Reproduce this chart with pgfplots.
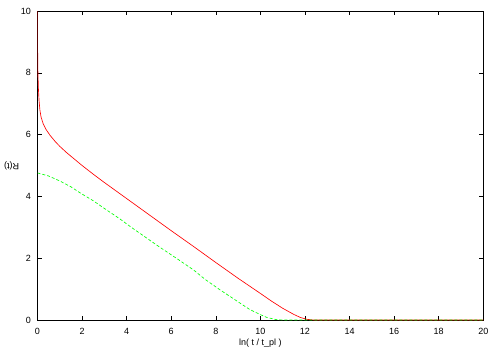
\documentclass[border=0pt]{standalone}
\usepackage{fontspec}
\setmainfont{Liberation Sans}
\usepackage{pgfplots}
\pgfplotsset{compat=1.18}
\begin{document}
\begin{tikzpicture}
\begin{axis}[
  scale only axis,
  width=445.8pt, height=309pt,
  xmin=0, xmax=20, ymin=0, ymax=10,
  xtick={0,2,...,20}, ytick={0,2,...,10},
  tick align=inside,
  major tick length=4pt,
  tick style={black, line width=0.6pt},
  axis line style={black, line width=0.8pt},
  /pgf/number format/assume math mode=true,
  tick label style={font=\fontsize{9}{11}\selectfont},
  xticklabel style={yshift=-4.5pt},
  yticklabel style={xshift=-3pt},
  label style={font=\fontsize{9}{11}\selectfont},
  xlabel={ln( t / t\_pl )},
  ylabel={R(t)},
  xlabel style={at={(axis description cs:0.5,-0.074)}, anchor=center},
  ylabel style={at={(axis description cs:-0.058,0.5)}, anchor=center, rotate=90},
  clip=true,
]
\addplot[red, line width=0.65pt] coordinates {
(0,10.5) (0.002,9.3) (0.005,8.9) (0.01,8.45) (0.02,8.0) (0.04,7.5) (0.07,7.1)
(0.11,6.78) (0.16,6.57) (0.25,6.36) (0.38,6.17) (0.56,5.98) (0.8,5.77)
(1.0,5.62) (1.3,5.42) (1.6,5.24) (2.0,5.0) (2.5,4.72) (3.0,4.45) (4.0,3.93)
(5.0,3.41) (6.0,2.89) (7.0,2.38) (8.0,1.86) (9.0,1.35) (10.0,0.86)
(10.5,0.61) (11.0,0.38) (11.5,0.18) (11.8,0.08) (12.1,0.02)
(12.4,0) (20,0)
};
\addplot[green, line width=0.65pt, dash pattern=on 3pt off 2pt] coordinates {
(0,4.76) (0.5,4.66) (1.0,4.50) (1.5,4.31) (1.9,4.12) (2.5,3.86) (3.0,3.61)
(3.7,3.27) (4.15,3.03) (5.0,2.60) (5.5,2.35) (6.31,1.96) (7.0,1.62) (7.51,1.32)
(8.18,0.98) (8.6,0.78) (9.08,0.55) (9.5,0.35) (9.98,0.18) (10.3,0.08)
(10.7,0.015) (11.0,0) (20,0)
};
\end{axis}
\path ([shift={(-37.5pt,-30pt)}]current axis.south west) rectangle ([shift={(16.7pt,11pt)}]current axis.north east);
\end{tikzpicture}
\end{document}
